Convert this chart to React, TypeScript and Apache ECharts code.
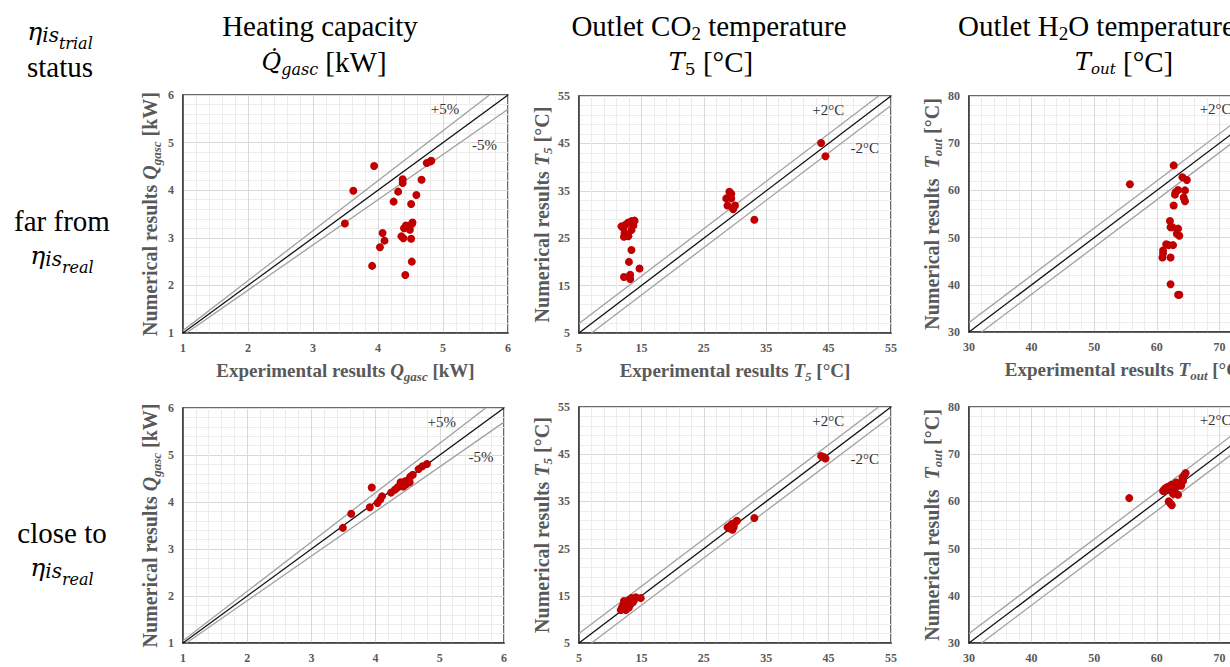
import React, { useEffect, useRef } from "react";
import * as echarts from "echarts";

// ---------------- data (experimental, numerical) ----------------
const qFar: number[][] = [
  [3.94, 4.51], [3.62, 3.99], [3.49, 3.3], [3.91, 2.41], [4.03, 2.8], [4.07, 3.1], [4.1, 2.94],
  [4.24, 3.76], [4.31, 3.97], [4.38, 4.23], [4.38, 4.15], [4.36, 3.03], [4.39, 2.99], [4.4, 3.2],
  [4.43, 3.26], [4.47, 3.22], [4.49, 3.17], [4.52, 3.29], [4.53, 3.32], [4.42, 2.22], [4.52, 2.5],
  [4.51, 2.98], [4.51, 3.71], [4.59, 3.9], [4.67, 4.22], [4.75, 4.57], [4.8, 4.6], [4.82, 4.62],
];
const qClose: number[][] = [
  [3.49, 3.45], [3.62, 3.75], [3.94, 4.31], [3.91, 3.89], [4.03, 3.98], [4.07, 4.05], [4.1, 4.12],
  [4.24, 4.2], [4.3, 4.26], [4.34, 4.31], [4.38, 4.35], [4.41, 4.4], [4.43, 4.33], [4.46, 4.44],
  [4.51, 4.47], [4.54, 4.54], [4.53, 4.42], [4.58, 4.58], [4.67, 4.7], [4.73, 4.76], [4.8, 4.81],
  [4.39, 4.42], [4.47, 4.37],
];
const t5Far: number[][] = [
  [43.8, 45.1], [44.5, 42.3], [29.1, 34.8], [29.4, 34.4], [28.6, 33.4], [29.4, 33.4], [28.8, 31.9],
  [30.0, 31.9], [29.7, 31.1], [33.1, 28.9], [11.8, 27.5], [12.1, 27.2], [12.5, 27.9], [12.9, 28.3],
  [13.4, 28.6], [13.9, 28.7], [13.7, 27.7], [13.4, 26.7], [12.3, 26.1], [12.6, 25.6], [12.9, 25.4],
  [12.2, 25.3], [13.4, 22.5], [13.0, 20.0], [14.7, 18.6], [12.2, 16.8], [13.2, 17.3], [13.2, 16.4],
];
const t5Close: number[][] = [
  [11.7, 12.0], [11.9, 12.6], [12.1, 13.1], [12.3, 12.4], [12.4, 13.5], [12.6, 12.8], [12.8, 13.8],
  [12.9, 12.9], [13.1, 14.2], [13.2, 13.1], [13.4, 14.5], [13.6, 13.6], [13.0, 12.5], [12.5, 12.0],
  [13.8, 14.0], [14.1, 14.7], [14.9, 14.5], [12.2, 13.9],
  [28.8, 29.5], [29.2, 29.8], [29.5, 30.2], [29.8, 29.6], [30.0, 30.5], [30.3, 30.9], [29.6, 29.0],
  [29.1, 29.3], [33.1, 31.5], [43.8, 44.6], [44.5, 44.1], [44.2, 44.4],
];
const toutFar: number[][] = [
  [55.7, 61.3], [62.7, 65.3], [64.1, 62.8], [64.8, 62.2], [63.4, 60.1], [63.0, 59.6], [62.9, 59.1],
  [64.5, 60.0], [64.3, 58.5], [64.5, 57.7], [62.7, 56.8], [62.1, 53.5], [62.2, 52.2], [62.5, 52.2],
  [63.4, 51.9], [63.2, 50.8], [63.6, 50.4], [61.5, 48.6], [61.9, 48.4], [62.6, 48.4], [61.0, 47.3],
  [61.0, 46.7], [60.9, 45.8], [62.2, 45.8], [62.2, 40.1], [63.4, 37.9], [63.6, 37.9],
];
const toutClose: number[][] = [
  [55.6, 60.7], [61.0, 62.2], [61.2, 62.6], [61.5, 62.9], [61.8, 63.1], [62.0, 62.4], [62.3, 63.5],
  [62.5, 62.0], [62.6, 61.6], [62.9, 63.7], [63.0, 62.9], [63.2, 63.2], [63.4, 61.4], [63.6, 63.8],
  [63.9, 63.3], [64.2, 64.3], [64.1, 65.0], [64.4, 65.6], [64.6, 66.0], [62.2, 59.5], [62.4, 59.2],
  [61.9, 60.0], [62.7, 62.5], [63.1, 64.0],
];

// axis ranges [min, max, interval]
const qRange = [1, 6, 1];
const t5Range = [5, 55, 10];
const toutRange = [30, 80, 10];
const qBandPct = 0.05;
const tBandAbs = 2;

// band annotation texts: [x, y, text]
const qLabels: (number | string)[][] = [[5.03, 5.71, "+5%"], [5.64, 4.95, "-5%"]];
const t5Labels: (number | string)[][] = [[44.95, 52.05, "+2°C"], [50.8, 44.0, "-2°C"]];
const toutLabels: (number | string)[][] = [[69.4, 77.2, "+2°C"]];

// ---------------- style ----------------
const SERIF = "'Liberation Serif', 'Times New Roman', serif";
const MATH = "'DejaVu Serif', 'Liberation Serif', serif";
const GRAY = "#595959";
const RED = "#C00000";

const GRIDS = [
  { left: 183, top: 95, width: 325, height: 238 },
  { left: 579, top: 96, width: 312, height: 237 },
  { left: 969, top: 96, width: 313, height: 236 },
  { left: 183, top: 408, width: 321, height: 235 },
  { left: 579, top: 407, width: 312, height: 236 },
  { left: 969, top: 407, width: 313, height: 236 },
];

function nameRich(size: number) {
  const base = { fontFamily: SERIF, fontWeight: "bold", fontSize: size, color: GRAY, lineHeight: size + 2 };
  return {
    b: { ...base },
    bi: { ...base, fontStyle: "italic" },
    sub: {
      ...base,
      fontStyle: "italic",
      fontSize: Math.round(size * 0.66),
      lineHeight: Math.round(size * 0.7),
      padding: [12, 0, 0, 0],
    },
  };
}

function axis(gi: number, r: number[], name: string, gap: number, nameSize: number) {
  return {
    type: "value",
    gridIndex: gi,
    min: r[0],
    max: r[1],
    interval: r[2],
    axisLine: { show: true, onZero: false, lineStyle: { color: "#3a3a3a", width: 1.5 } },
    axisTick: { show: false },
    axisLabel: { fontFamily: SERIF, fontWeight: "bold", fontSize: 12, color: GRAY, margin: 9 },
    splitLine: { show: true, lineStyle: { color: "#d9d9d9", width: 1 } },
    minorTick: { show: false, splitNumber: 5 },
    minorSplitLine: { show: true, lineStyle: { color: "#ececec", width: 1 } },
    name,
    nameLocation: "middle",
    nameGap: gap,
    nameTextStyle: {
      fontFamily: SERIF,
      fontWeight: "bold",
      fontSize: nameSize,
      color: GRAY,
      rich: nameRich(nameSize),
    },
  };
}

function panelSeries(gi: number, data: number[][], r: number[], kind: "pct" | "abs", labels: (number | string)[][]) {
  const lo = r[0];
  const hi = r[1];
  let plus: number[][];
  let minus: number[][];
  if (kind === "pct") {
    plus = [[lo, lo * (1 + qBandPct)], [hi / (1 + qBandPct), hi]];
    minus = [[lo / (1 - qBandPct), lo], [hi, hi * (1 - qBandPct)]];
  } else {
    plus = [[lo, lo + tBandAbs], [hi - tBandAbs, hi]];
    minus = [[lo + tBandAbs, lo], [hi, hi - tBandAbs]];
  }
  const lineBase = {
    type: "line",
    xAxisIndex: gi,
    yAxisIndex: gi,
    symbol: "none",
    silent: true,
  };
  return [
    { ...lineBase, data: plus, lineStyle: { color: "#a0a0a0", width: 1.3 }, z: 2 },
    { ...lineBase, data: minus, lineStyle: { color: "#a0a0a0", width: 1.3 }, z: 2 },
    { ...lineBase, data: [[lo, lo], [hi, hi]], lineStyle: { color: "#111111", width: 1.3 }, z: 3 },
    {
      type: "scatter",
      xAxisIndex: gi,
      yAxisIndex: gi,
      data,
      symbolSize: 8,
      itemStyle: { color: RED, opacity: 1 },
      z: 5,
    },
    {
      type: "scatter",
      xAxisIndex: gi,
      yAxisIndex: gi,
      data: labels,
      symbolSize: 1,
      silent: true,
      itemStyle: { color: "rgba(0,0,0,0)" },
      label: {
        show: true,
        position: "inside",
        formatter: (p: any) => p.value[2],
        fontFamily: SERIF,
        fontSize: 15,
        color: "#333333",
        opacity: 1,
      },
      z: 6,
    },
  ];
}

function mathRich() {
  const k = { fill: "#000", color: "#000" };
  return {
    m: { ...k, fontFamily: MATH, fontStyle: "italic", fontSize: 24, lineHeight: 28 },
    r: { ...k, fontFamily: SERIF, fontSize: 29, lineHeight: 30 },
    s: { ...k, fontFamily: MATH, fontStyle: "italic", fontSize: 16, lineHeight: 18, padding: [14, 0, 0, 0] },
    so: { ...k, fontFamily: MATH, fontStyle: "italic", fontSize: 15, lineHeight: 18, padding: [14, 0, 0, 0] },
    su: { ...k, fontFamily: MATH, fontSize: 17, lineHeight: 18, padding: [14, 0, 0, 0] },
    rs: { ...k, fontFamily: SERIF, fontSize: 19, lineHeight: 20, padding: [14, 0, 0, 0] },
    eta: { ...k, fontFamily: MATH, fontStyle: "italic", fontSize: 25, lineHeight: 28 },
    is: { ...k, fontFamily: MATH, fontStyle: "italic", fontSize: 20, lineHeight: 22, padding: [8, 0, 0, 0] },
    tr: { ...k, fontFamily: MATH, fontStyle: "italic", fontSize: 16, lineHeight: 18, padding: [24, 0, 0, 0] },
  };
}

function txt(x: number, y: number, text: string, align: string, size = 29) {
  return {
    type: "text",
    x,
    y,
    z: 10,
    style: {
      text,
      fontFamily: SERIF,
      fontSize: size,
      fill: "#000",
      align,
      verticalAlign: "middle",
      rich: mathRich(),
    },
  };
}

export default function App() {
  const ref = useRef<HTMLDivElement>(null);
  useEffect(() => {
    if (!ref.current) return;
    const chart = echarts.init(ref.current, undefined, { renderer: "svg" });
    const xNames = [
      "{b|Experimental results }{bi|Q}{sub|gasc}{b| [kW]}",
      "{b|Experimental results }{bi|T}{sub|5}{b| [°C]}",
      "{b|Experimental results }{bi|T}{sub|out}{b| [°C]}",
    ];
    const yNames = [
      "{b|Numerical results }{bi|Q}{sub|gasc}{b| [kW]}",
      "{b|Numerical results }{bi|T}{sub|5}{b| [°C]}",
      "{b|Numerical results  }{bi|T}{sub|out}{b| [°C]}",
    ];
    const ranges = [qRange, t5Range, toutRange, qRange, t5Range, toutRange];
    const xAxis = ranges.map((r, i) => axis(i, r, i < 3 ? xNames[i] : "", 27, 19));
    const yAxis = ranges.map((r, i) => axis(i, r, yNames[i % 3], 22, 20));
    const series = [
      ...panelSeries(0, qFar, qRange, "pct", qLabels),
      ...panelSeries(1, t5Far, t5Range, "abs", t5Labels),
      ...panelSeries(2, toutFar, toutRange, "abs", toutLabels),
      ...panelSeries(3, qClose, qRange, "pct", qLabels),
      ...panelSeries(4, t5Close, t5Range, "abs", t5Labels),
      ...panelSeries(5, toutClose, toutRange, "abs", toutLabels),
    ];
    chart.setOption({
      animation: false,
      backgroundColor: "#ffffff",
      grid: GRIDS.map((g) => ({
        ...g,
        show: true,
        borderColor: "#3a3a3a",
        borderWidth: 1.5,
        backgroundColor: "transparent",
        outerBoundsMode: "none",
        containLabel: false,
      })),
      xAxis,
      yAxis,
      series,
      graphic: [
        txt(60, 31, "{eta|η}{is|is}{tr|trial}", "center"),
        txt(60, 67, "status", "center"),
        txt(62, 221, "far from", "center"),
        txt(62, 255, "{eta|η}{is|is}{tr|real}", "center"),
        txt(62, 533, "close to", "center"),
        txt(62, 567, "{eta|η}{is|is}{tr|real}", "center"),
        txt(320, 26, "Heating capacity", "center"),
        txt(324, 62, "{m|Q\u0307}{s|gasc}{r| [kW]}", "center"),
        txt(709, 26, "Outlet CO{rs|2} temperature", "center"),
        txt(711, 62, "{m|T}{su|5}{r| [°C]}", "center"),
        txt(958, 26, "Outlet H{rs|2}O temperature", "left"),
        txt(1075, 62, "{m|T}{so|out}{r| [°C]}", "left"),
      ],
    });
    return () => chart.dispose();
  }, []);
  return (
    <div
      ref={ref}
      style={{ position: "absolute", left: 0, top: 0, width: 1230, height: 667, overflow: "hidden", background: "#fff" }}
    />
  );
}
